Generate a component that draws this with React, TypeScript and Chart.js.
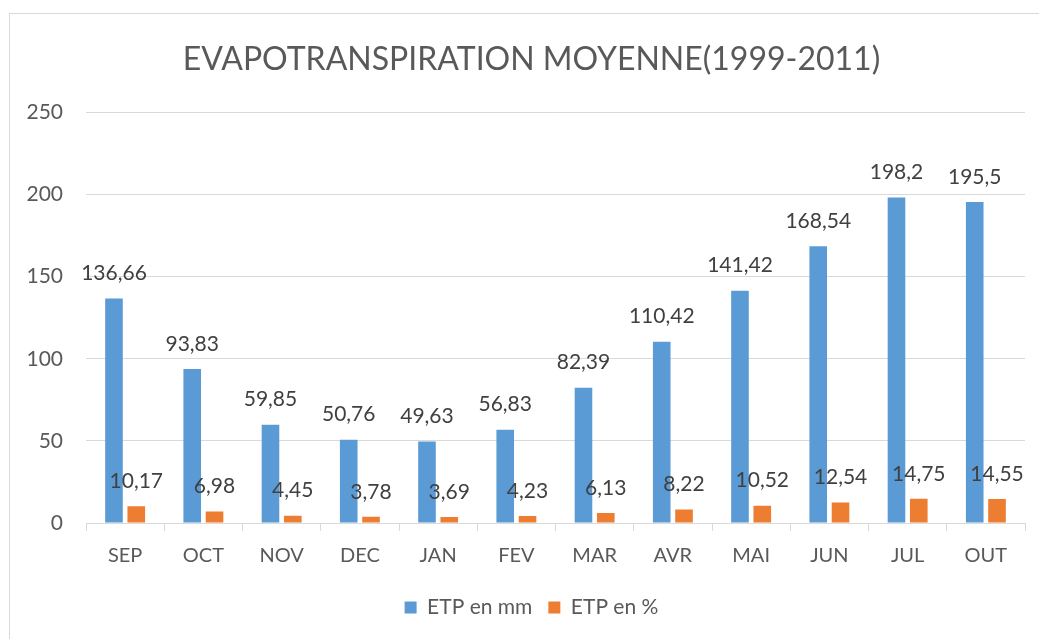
import React, { useEffect, useRef } from "react";
import { Chart, registerables } from "chart.js";

Chart.register(...registerables);

const months = ["SEP", "OCT", "NOV", "DEC", "JAN", "FEV", "MAR", "AVR", "MAI", "JUN", "JUL", "OUT"];
const etpMm = [136.66, 93.83, 59.85, 50.76, 49.63, 56.83, 82.39, 110.42, 141.42, 168.54, 198.2, 195.5];
const etpPct = [10.17, 6.98, 4.45, 3.78, 3.69, 4.23, 6.13, 8.22, 10.52, 12.54, 14.75, 14.55];
const seriesNames = ["ETP en mm", "ETP en %"];
const titleText = "EVAPOTRANSPIRATION MOYENNE(1999-2011)";

const FONT = "Lato, 'Open Sans', sans-serif";

const dataLabelPlugin = {
  id: "dataLabels",
  afterLayout(chart: any) {
    // let the y tick labels extend past the axis box without being clipped
    if (chart.scales.y) chart.scales.y.left = 0;
  },
  afterDatasetsDraw(chart: any) {
    const ctx = chart.ctx;
    ctx.save();
    ctx.font = `21px ${FONT}`;
    ctx.fillStyle = "#404040";
    ctx.textAlign = "center";
    ctx.textBaseline = "middle";
    chart.data.datasets.forEach((ds: any, di: number) => {
      const meta = chart.getDatasetMeta(di);
      meta.data.forEach((bar: any, i: number) => {
        const v = ds.data[i];
        const txt = String(v).replace(".", ",");
        ctx.fillText(txt, bar.x, bar.y - 25);
      });
    });
    ctx.restore();
  },
};

export default function App() {
  const ref = useRef<HTMLCanvasElement | null>(null);
  useEffect(() => {
    if (!ref.current) return;
    const chart = new Chart(ref.current, {
      type: "bar",
      data: {
        labels: months,
        datasets: [
          {
            label: seriesNames[0],
            data: etpMm,
            backgroundColor: "#5B9BD5",
            categoryPercentage: 0.57,
            barPercentage: 0.79,
          },
          {
            label: seriesNames[1],
            data: etpPct,
            backgroundColor: "#ED7D31",
            categoryPercentage: 0.57,
            barPercentage: 0.79,
          },
        ],
      },
      options: {
        responsive: false,
        animation: false,
        devicePixelRatio: 1,
        layout: { padding: { left: 38, right: 14, top: 40, bottom: 11 } },
        plugins: {
          title: {
            display: true,
            text: titleText,
            color: "#595959",
            font: { family: FONT, size: 32, weight: "normal" },
            padding: { top: 0, bottom: 34 },
          },
          legend: {
            display: true,
            position: "bottom",
            labels: {
              boxWidth: 12,
              boxHeight: 12,
              color: "#595959",
              font: { family: FONT, size: 21 },
              padding: 16,
            },
          },
          tooltip: { enabled: false },
        },
        scales: {
          x: {
            grid: {
              display: true,
              drawOnChartArea: false,
              drawTicks: true,
              tickLength: 8,
              color: "#D9D9D9",
              offset: true,
            },
            border: { display: true, color: "#D9D9D9", width: 1 },
            ticks: {
              color: "#595959",
              font: { family: FONT, size: 20 },
              padding: 13,
              maxRotation: 0,
            },
          },
          y: {
            min: 0,
            max: 250,
            grid: { color: "#D9D9D9", drawTicks: false, lineWidth: 1 },
            border: { display: false },
            ticks: {
              stepSize: 50,
              color: "#595959",
              font: { family: FONT, size: 21 },
              padding: 23,
            },
            afterFit(scale: any) {
              scale.width = 48;
            },
          },
        },
      },
      plugins: [dataLabelPlugin],
    });
    return () => chart.destroy();
  }, []);
  return (
    <div
      style={{
        position: "fixed",
        left: 0,
        top: 0,
        width: 1039,
        height: 639,
        overflow: "hidden",
        background: "#ffffff",
      }}
    >
      <div
        style={{
          position: "absolute",
          left: 9,
          top: 13,
          width: 1100,
          height: 700,
          border: "1px solid #D9D9D9",
        }}
      />
      <canvas
        ref={ref}
        width={1039}
        height={639}
        style={{ position: "absolute", left: 0, top: 0 }}
      />
    </div>
  );
}
